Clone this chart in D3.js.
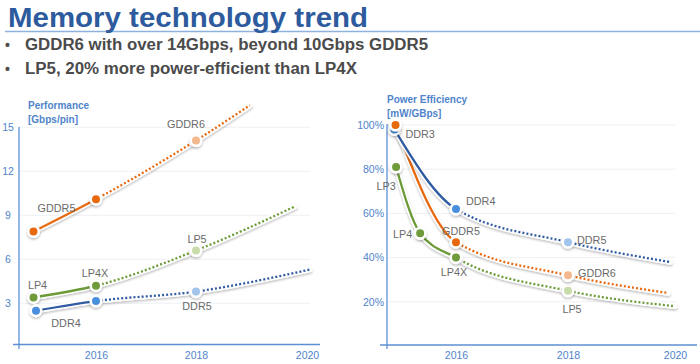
<!DOCTYPE html>
<html>
<head>
<meta charset="utf-8">
<script src="https://cdn.jsdelivr.net/npm/d3@7/dist/d3.min.js"></script>
<style>
  html, body { margin: 0; padding: 0; background: #fff; }
  svg { display: block; font-family: "Liberation Sans", Arial, Helvetica, sans-serif; }
</style>
</head>
<body>
<svg id="chart" width="700" height="364"></svg>
<script>
// ---------------- DATA ----------------
const titleText = "Memory technology trend";
const bulletTexts = [
  "GDDR6 with over 14Gbps, beyond 10Gbps GDDR5",
  "LP5, 20% more power-efficient than LP4X"
];

// Performance [Gbps/pin] : [year, value]; last entry = end of the projected trend (no marker)
const perfGDDR = [[2014.75, 7.9], [2016, 10.1], [2018, 14.1], [2018.97, 16.5]];
const perfGDDRLabels = ["GDDR5", "", "GDDR6"];
const perfLP = [[2014.75, 3.4], [2016, 4.2], [2018, 6.6], [2019.78, 9.6]];
const perfLPLabels = ["LP4", "LP4X", "LP5"];
const perfDDR = [[2014.8, 2.5], [2016, 3.15], [2018, 3.8], [2020.05, 5.3]];
const perfDDRLabels = ["DDR4", "", "DDR5"];
const perfTicks = [3, 6, 9, 12, 15];

// Power efficiency [mW/GBps] in % : [year, value]
const effDDR = [[2014.9, 98], [2016, 62], [2018, 47], [2019.91, 38]];
const effDDRLabels = ["DDR3", "DDR4", "DDR5"];
const effGDDR = [[2014.92, 100], [2016, 47], [2018, 32], [2019.87, 24]];
const effGDDRLabels = ["", "GDDR5", "GDDR6"];
const effLP = [[2014.93, 81], [2015.36, 51], [2016, 40], [2018, 25], [2020, 18]];
const effLPLabels = ["LP3", "LP4", "LP4X", "LP5"];
const effTicks = [20, 40, 60, 80, 100];

const yearTicks = [2016, 2018, 2020];
const splitYear = 2016;   // solid (actual) before, dotted (projection) after

// ---------------- STYLE / LAYOUT ----------------
const col = {
  GDDR: { line: "#e8690f", mark: "#e8690f", light: "#f4b88e" },
  LP:   { line: "#6c9a37", mark: "#6f9b3b", light: "#c7dcaa" },
  DDR:  { line: "#2e5ba2", mark: "#4a8fdd", light: "#a0c4ec" }
};
const axisBlue = "#5d8fd4";
const tickBlue = "#4f84cc";
const labelGray = "#6a6a6a";

// label offsets relative to their marker: [dx, dy(center), anchor]
const labelPos = {
  L: {
    GDDR5: [23, -23, "middle"], GDDR6: [-10, -16, "middle"],
    LP4: [4, -12, "middle"], LP4X: [-1, -13, "middle"], LP5: [1, -11, "middle"],
    DDR4: [30, 12, "middle"], DDR5: [1, 15, "middle"]
  },
  R: {
    DDR3: [11, 5, "start"], DDR4: [10, -8, "start"], DDR5: [9, -2, "start"],
    GDDR5: [5, -11, "middle"], GDDR6: [10, -2, "start"],
    LP3: [-10, 19, "middle"], LP4: [-8, 1, "end"], LP4X: [-2, 15, "middle"], LP5: [4, 18, "middle"]
  }
};

const svg = d3.select("#chart");
const defs = svg.append("defs");
const f = defs.append("filter").attr("id", "shadow")
  .attr("filterUnits", "userSpaceOnUse")
  .attr("x", 0).attr("y", 0).attr("width", 700).attr("height", 364);
f.append("feDropShadow").attr("dx", 0).attr("dy", 1.5).attr("stdDeviation", 1.3)
  .attr("flood-color", "#000").attr("flood-opacity", 0.28);

// ---------------- HEADER ----------------
svg.append("line").attr("x1", 5).attr("x2", 700).attr("y1", 31.5).attr("y2", 31.5)
  .attr("stroke", "#8fb1dd").attr("stroke-width", 1.6);
svg.append("text").attr("x", 8).attr("y", 27)
  .attr("font-size", 28.5).attr("font-weight", "bold").attr("fill", "#2d5b9e")
  .attr("textLength", 360).attr("lengthAdjust", "spacingAndGlyphs")
  .text(titleText);

const bulletWidths = [403, 332];
bulletTexts.forEach((t, i) => {
  const y = 50 + i * 24;
  svg.append("text").attr("x", 5).attr("y", y).attr("font-size", 14).attr("font-weight", "bold")
    .attr("fill", "#4d4d4d").text("•");
  svg.append("text").attr("x", 25).attr("y", y).attr("font-size", 16).attr("font-weight", "bold")
    .attr("fill", "#4b4b4b")
    .attr("textLength", bulletWidths[i]).attr("lengthAdjust", "spacingAndGlyphs")
    .text(t);
});

// ---------------- CHART HELPER ----------------
function drawChart(cfg) {
  const g = svg.append("g");
  const { x, y } = cfg;

  // gridlines
  g.selectAll("line.grid").data(cfg.ticks).join("line")
    .attr("x1", cfg.gridX[0]).attr("x2", cfg.gridX[1])
    .attr("y1", d => y(d)).attr("y2", d => y(d))
    .attr("stroke", "#edf0f5").attr("stroke-width", 1);

  // axes lines
  g.append("line").attr("x1", cfg.yAxisX).attr("x2", cfg.yAxisX)
    .attr("y1", cfg.yAxisSpan[0]).attr("y2", cfg.yAxisSpan[1])
    .attr("stroke", axisBlue).attr("stroke-width", 1.3);
  g.append("line").attr("x1", cfg.xAxisSpan[0]).attr("x2", cfg.xAxisSpan[1])
    .attr("y1", cfg.xAxisY).attr("y2", cfg.xAxisY)
    .attr("stroke", axisBlue).attr("stroke-width", 1.3);

  // y tick labels
  const ya = g.append("g").attr("transform", `translate(${cfg.yAxisX},0)`)
    .call(d3.axisLeft(y).tickValues(cfg.ticks).tickSize(0).tickPadding(cfg.yPad)
      .tickFormat(cfg.yFormat));
  ya.select(".domain").remove();
  ya.selectAll("text").attr("fill", tickBlue).attr("font-size", 10.5)
    .attr("font-family", "Liberation Sans, Arial, sans-serif");
  if (cfg.yAnchor) ya.selectAll("text").attr("text-anchor", cfg.yAnchor);

  // x tick labels
  const xa = g.append("g").attr("transform", `translate(0,${cfg.xAxisY})`)
    .call(d3.axisBottom(x).tickValues(yearTicks).tickSize(0).tickPadding(7)
      .tickFormat(d3.format("d")));
  xa.select(".domain").remove();
  xa.selectAll("text").attr("fill", tickBlue).attr("font-size", 10.5)
    .attr("font-family", "Liberation Sans, Arial, sans-serif");

  // axis title
  const at = g.append("text").attr("font-size", 10).attr("font-weight", "bold").attr("fill", tickBlue);
  at.append("tspan").attr("x", cfg.titlePos[0]).attr("y", cfg.titlePos[1]).text(cfg.title[0]);
  at.append("tspan").attr("x", cfg.titlePos[0]).attr("y", cfg.titlePos[1] + 14).text(cfg.title[1]);

  // clip paths
  const xs = x(splitYear);
  defs.append("clipPath").attr("id", cfg.id + "-solid").append("rect")
    .attr("x", 0).attr("y", 0).attr("width", xs).attr("height", 364);
  defs.append("clipPath").attr("id", cfg.id + "-dot").append("rect")
    .attr("x", xs).attr("y", 0).attr("width", 700 - xs).attr("height", 364);

  const line = d3.line().x(d => x(d[0])).y(d => y(d[1])).curve(d3.curveMonotoneX);

  cfg.series.forEach(s => {
    const c = col[s.key];
    const d = line(s.values);
    g.append("path").attr("d", d).attr("fill", "none").attr("stroke", "#fff")
      .attr("stroke-width", 5.5).attr("stroke-linecap", "round").attr("filter", "url(#shadow)")
      .attr("opacity", 0.95);
    g.append("path").attr("d", d).attr("fill", "none").attr("stroke", c.line)
      .attr("stroke-width", 2.3).attr("clip-path", `url(#${cfg.id}-solid)`);
    g.append("path").attr("d", d).attr("fill", "none").attr("stroke", c.line)
      .attr("stroke-width", 2.3).attr("stroke-dasharray", "2,2.1")
      .attr("clip-path", `url(#${cfg.id}-dot)`);
  });

  // markers (all points except the trend end)
  cfg.markerOrder.forEach(key => {
    const s = cfg.series.find(t => t.key === key);
    const c = col[key];
    const pts = s.values.slice(0, s.values.length - 1);
    g.selectAll(null).data(pts).join("circle")
      .attr("cx", d => x(d[0])).attr("cy", d => y(d[1])).attr("r", 5.3)
      .attr("fill", d => d[0] > splitYear ? c.light : c.mark)
      .attr("stroke", "#fff").attr("stroke-width", 2.6)
      .attr("filter", "url(#shadow)");
  });

  // labels
  cfg.series.forEach(s => {
    s.labels.forEach((lab, i) => {
      if (!lab) return;
      const p = s.values[i];
      const o = labelPos[cfg.id][lab];
      g.append("text").attr("x", x(p[0]) + o[0]).attr("y", y(p[1]) + o[1])
        .attr("dy", "0.36em").attr("text-anchor", o[2])
        .attr("font-size", 10.8).attr("fill", labelGray).text(lab);
    });
  });
}

// ---------------- LEFT: PERFORMANCE ----------------
drawChart({
  id: "L",
  x: d3.scaleLinear().domain([2016, 2018, 2020]).range([96, 196, 307]),
  y: d3.scaleLinear().domain([0, 15]).range([347.3, 127.3]),
  ticks: perfTicks,
  yFormat: d3.format("d"),
  yPad: 11, yAnchor: "middle",
  gridX: [20, 310],
  yAxisX: 19, yAxisSpan: [127, 349],
  xAxisY: 344.5, xAxisSpan: [13, 320],
  title: ["Performance", "[Gbps/pin]"], titlePos: [28, 108.5],
  series: [
    { key: "GDDR", values: perfGDDR, labels: perfGDDRLabels },
    { key: "LP", values: perfLP, labels: perfLPLabels },
    { key: "DDR", values: perfDDR, labels: perfDDRLabels }
  ],
  markerOrder: ["GDDR", "LP", "DDR"]
});

// ---------------- RIGHT: POWER EFFICIENCY ----------------
drawChart({
  id: "R",
  x: d3.scaleLinear().domain([2016, 2018, 2020]).range([456, 568, 675]),
  y: d3.scaleLinear().domain([0, 100]).range([346, 125]),
  ticks: effTicks,
  yFormat: d => d + "%",
  yPad: 3, yAnchor: null,
  gridX: [388, 675],
  yAxisX: 387, yAxisSpan: [124, 349],
  xAxisY: 345, xAxisSpan: [380, 697],
  title: ["Power Efficiency", "[mW/GBps]"], titlePos: [387, 102.5],
  series: [
    { key: "LP", values: effLP, labels: effLPLabels },
    { key: "GDDR", values: effGDDR, labels: effGDDRLabels },
    { key: "DDR", values: effDDR, labels: effDDRLabels }
  ],
  markerOrder: ["DDR", "LP", "GDDR"]
});
</script>
</body>
</html>
